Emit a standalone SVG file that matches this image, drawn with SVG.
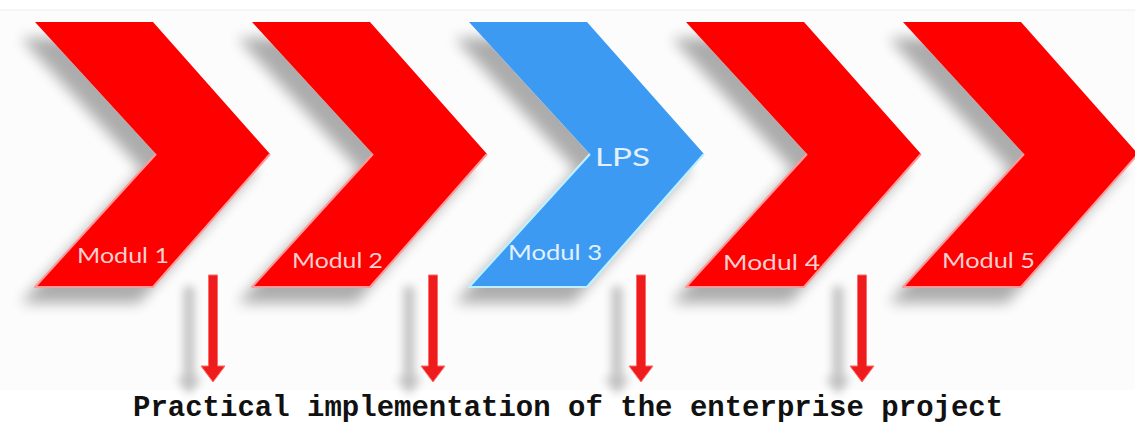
<svg xmlns="http://www.w3.org/2000/svg" width="1135" height="423" viewBox="0 0 1135 423">
<defs>
<style>
.red{fill:#fe0000;}
.blue{fill:#3c9af3;}
.hlr{fill:none;stroke:#ff9a9a;stroke-width:2;stroke-linejoin:round;}
.hlb{fill:none;stroke:#bff0ff;stroke-width:2.2;stroke-linejoin:round;}
.lbl{font-family:Lato,"Open Sans","Liberation Sans",sans-serif;font-size:22px;}
.lr{fill:#f7d0d0;}
.lb{fill:#e2f1ff;}
.arrow{fill:#ee1c1c;stroke:#ff6a6a;stroke-width:1;}
.cap{font-family:"Liberation Mono","Courier New",monospace;font-weight:bold;font-size:29px;fill:#111;}
</style>
<filter id="sh" x="-30%" y="-20%" width="160%" height="150%">
<feGaussianBlur in="SourceAlpha" stdDeviation="7"/>
<feOffset dx="-14" dy="16"/>
<feComponentTransfer><feFuncA type="linear" slope="0.32"/></feComponentTransfer>
<feMerge><feMergeNode/><feMergeNode in="SourceGraphic"/></feMerge>
</filter>
<filter id="ash" x="-300%" y="-20%" width="500%" height="150%">
<feGaussianBlur in="SourceAlpha" stdDeviation="5"/>
<feOffset dx="-24" dy="12"/>
<feComponentTransfer><feFuncA type="linear" slope="0.25"/></feComponentTransfer>
<feMerge><feMergeNode/><feMergeNode in="SourceGraphic"/></feMerge>
</filter>
<path id="chev" d="M0,22 L118,22 L235,154 L118,287 L0,287 L121,154 Z"/>
<path id="hl" d="M121,154 L0,287 L118,287 L235,154"/>
<path id="arr" d="M-4.5,275 L4.5,275 L4.5,366 L12,366 L0,382 L-12,366 L-4.5,366 Z"/>
</defs>
<rect x="0" y="0" width="1135" height="423" fill="#ffffff"/>
<rect x="0" y="10" width="1135" height="380" fill="#fcfcfc"/>
<line x1="0" y1="10" x2="1135" y2="10" stroke="#ececec" stroke-width="1"/>

<g id="node-modul1" transform="translate(35,0)">
<use href="#chev" class="red" filter="url(#sh)"/>
<use href="#hl" class="hlr"/>
<text class="lbl lr" x="42" y="263" textLength="92" lengthAdjust="spacingAndGlyphs">Modul 1</text>
</g>
<g id="node-modul2" transform="translate(252,0)">
<use href="#chev" class="red" filter="url(#sh)"/>
<use href="#hl" class="hlr"/>
<text class="lbl lr" x="40" y="268" textLength="91" lengthAdjust="spacingAndGlyphs">Modul 2</text>
</g>
<g id="node-modul3" transform="translate(469,0)">
<use href="#chev" class="blue" filter="url(#sh)"/>
<use href="#hl" class="hlb"/>
<text class="lbl lb" x="126" y="166" textLength="55" lengthAdjust="spacingAndGlyphs" style="font-size:25px">LPS</text>
<text class="lbl lb" x="39" y="260" textLength="94" lengthAdjust="spacingAndGlyphs">Modul 3</text>
</g>
<g id="node-modul4" transform="translate(686,0)">
<use href="#chev" class="red" filter="url(#sh)"/>
<use href="#hl" class="hlr"/>
<text class="lbl lr" x="37" y="270" textLength="97" lengthAdjust="spacingAndGlyphs">Modul 4</text>
</g>
<g id="node-modul5" transform="translate(903,0)">
<use href="#chev" class="red" filter="url(#sh)"/>
<use href="#hl" class="hlr"/>
<text class="lbl lr" x="39" y="268" textLength="93" lengthAdjust="spacingAndGlyphs">Modul 5</text>
</g>

<g id="connectors">
<use href="#arr" class="arrow" transform="translate(213,0)" filter="url(#ash)"/>
<use href="#arr" class="arrow" transform="translate(433,0)" filter="url(#ash)"/>
<use href="#arr" class="arrow" transform="translate(641,0)" filter="url(#ash)"/>
<use href="#arr" class="arrow" transform="translate(862,0)" filter="url(#ash)"/>
</g>

<g id="caption">
<text class="cap" x="133" y="416">Practical implementation of the enterprise project</text>
</g>
</svg>
